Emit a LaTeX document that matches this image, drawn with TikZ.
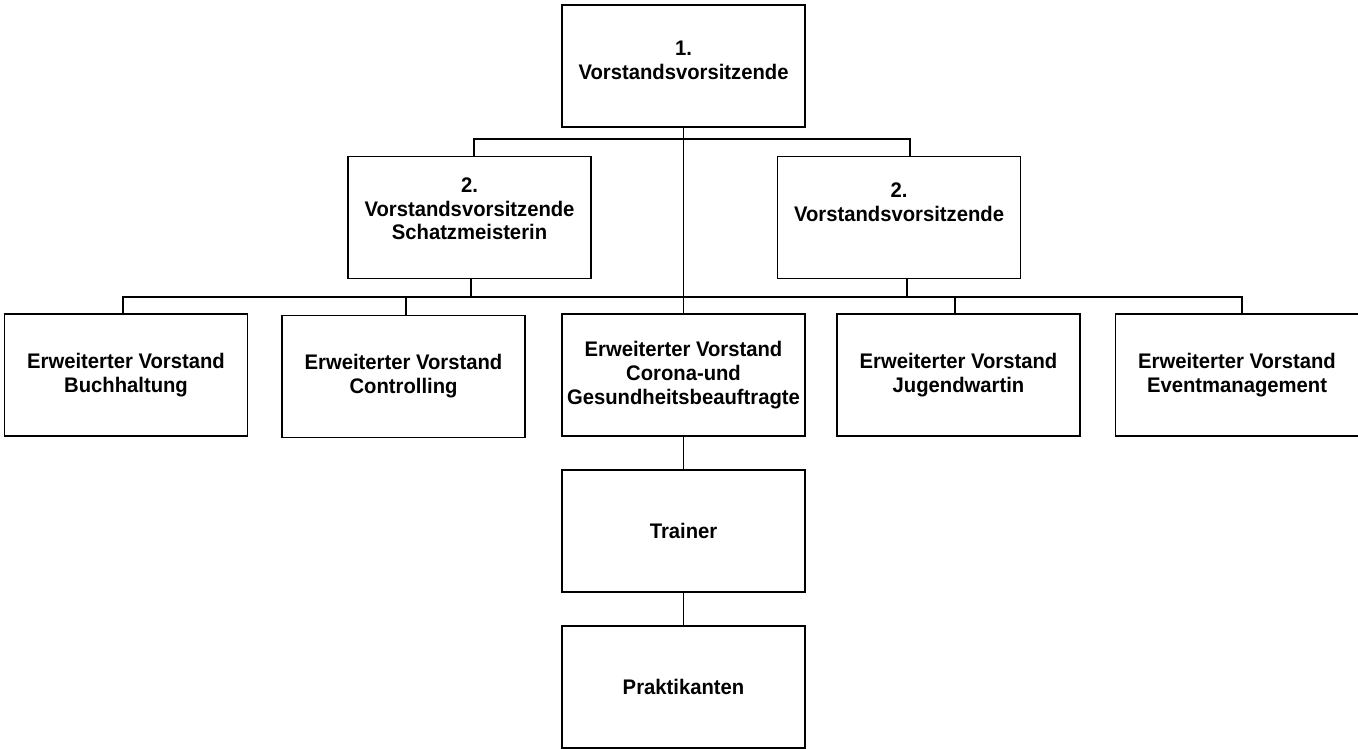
\documentclass[tikz,border=0pt]{standalone}
\usepackage{fontspec}
\setmainfont[FakeStretch=0.96]{Liberation Sans}
\usetikzlibrary{positioning}
\begin{document}
\begin{tikzpicture}[
    box/.style={draw, line width=1pt, minimum width=4.86cm, minimum height=2.44cm,
        align=center, inner sep=2pt, font=\fontsize{12}{13.6}\selectfont\bfseries},
    link/.style={line width=0.8pt}]
    \useasboundingbox (0,0) rectangle (27.16,-14.98);%Rand wie im Original
    % Vorstand
    \node[box] (chair1) at (13.67,-1.32) {1.\\Vorstandsvorsitzende\\[-0.6em]};
    \node[box] (chair2a) at (9.39,-4.35) {2.\\Vorstandsvorsitzende\\Schatzmeisterin\\[-0.3em]};
    \node[box] (chair2b) at (17.98,-4.35) {2.\\Vorstandsvorsitzende\\[0.3em]};
    % erweiterter Vorstand
    \node[box] (buch) at (2.52,-7.5) {Erweiterter Vorstand\\Buchhaltung};
    \node[box] (ctrl) at (8.07,-7.53) {Erweiterter Vorstand\\Controlling};
    \node[box] (corona) at (13.67,-7.5) {Erweiterter Vorstand\\Corona-und\\Gesundheitsbeauftragte};
    \node[box] (jugend) at (19.17,-7.5) {Erweiterter Vorstand\\Jugendwartin};
    \node[box] (event) at (24.74,-7.5) {Erweiterter Vorstand\\Eventmanagement};
    % Training
    \node[box] (trainer) at (13.67,-10.62) {Trainer};
    \node[box] (prakt) at (13.67,-13.74) {Praktikanten};
    \coordinate (topbus) at (0,-2.78);%obere Sammelschiene
    \coordinate (lowbus) at (0,-5.94);%untere Sammelschiene
    \draw[link] (chair1.south) -- (corona.north);
    \draw[link] ([xshift=0.09cm]chair2a.north) |- ([xshift=0.22cm]chair2b.north |- topbus) -- ([xshift=0.22cm]chair2b.north);
    \draw[link] ([xshift=-0.06cm]buch.north) |- ([xshift=0.1cm]event.north |- lowbus) -- ([xshift=0.1cm]event.north);
    \draw[link] ([xshift=0.03cm]chair2a.south) -- ([xshift=0.03cm]chair2a.south |- lowbus);
    \draw[link] ([xshift=0.16cm]chair2b.south) -- ([xshift=0.16cm]chair2b.south |- lowbus);
    \draw[link] ([xshift=0.05cm]ctrl.north) -- ([xshift=0.05cm]ctrl.north |- lowbus);
    \draw[link] ([xshift=-0.07cm]jugend.north) -- ([xshift=-0.07cm]jugend.north |- lowbus);
    \draw[link] (corona.south) -- (trainer.north);
    \draw[link] (trainer.south) -- (prakt.north);
\end{tikzpicture}
\end{document}
